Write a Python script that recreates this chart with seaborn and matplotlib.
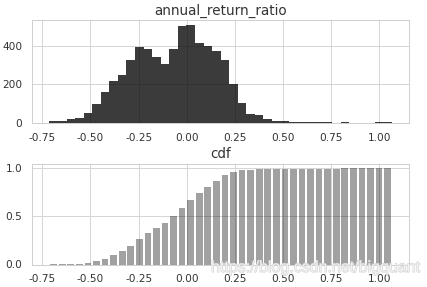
import numpy as np
import pandas as pd
import matplotlib
matplotlib.use("Agg")
import matplotlib.pyplot as plt
import matplotlib.patheffects as pe
import seaborn as sns

# ---- data ----
hist_min = -0.713
hist_max = 1.065
counts = [6, 10, 17, 22, 48, 99, 162, 217, 249, 327,
          394, 383, 342, 305, 385, 506, 511, 415, 401, 375,
          327, 204, 100, 46, 38, 21, 7, 7, 4, 3,
          2, 2, 3, 0, 2, 0, 0, 0, 2, 2]
cdf = [0.001, 0.003, 0.006, 0.010, 0.017, 0.034, 0.062, 0.100, 0.138, 0.195,
       0.263, 0.323, 0.385, 0.433, 0.500, 0.588, 0.672, 0.741, 0.809, 0.874,
       0.928, 0.962, 0.979, 0.986, 0.992, 0.995, 0.996, 0.997, 0.998, 0.998,
       0.999, 0.999, 0.999, 0.999, 1.0, 1.0, 1.0, 1.0, 1.0, 1.0]
x_ticks = [-0.75, -0.50, -0.25, 0.00, 0.25, 0.50, 0.75, 1.00]
top_yticks = [0, 200, 400]
bot_yticks = [0.0, 0.5, 1.0]
title_top = "annual_return_ratio"
title_bot = "cdf"
watermark = "https://blog.csdn.net/bigquant"

sns.set_theme(style="whitegrid")
plt.rcParams["axes.unicode_minus"] = False
plt.rcParams["font.family"] = ["DejaVu Sans"]

W, H = 427, 287
fig = plt.figure(figsize=(W / 72, H / 72), dpi=72)

edges = np.linspace(hist_min, hist_max, len(counts) + 1)
centers = (edges[:-1] + edges[1:]) / 2
df = pd.DataFrame({"x": centers, "count": counts, "cdf": cdf})
bin_list = [float(e) for e in edges]

ax1 = fig.add_axes([32.3 / W, 1 - 122.6 / H, (409 - 32.3) / W, (122.6 - 20) / H])
sns.histplot(data=df, x="x", weights="count", bins=bin_list, color="black", alpha=0.77,
             linewidth=0, ax=ax1)
ax1.set_ylabel("")
ax1.set_xlabel("")
ax1.set_xticks(x_ticks)
ax1.set_yticks(top_yticks)
ax1.set_title(title_top, fontsize=13.5, color="#333333", pad=5.5)
ax1.tick_params(labelsize=10.5, colors="#333333", pad=4)
xl = ax1.get_xlim()

ax2 = fig.add_axes([32.3 / W, 1 - 264.5 / H, (409 - 32.3) / W, (264.5 - 163.6) / H])
sns.histplot(data=df, x="x", weights="cdf", bins=bin_list, shrink=0.78, color="black",
             alpha=0.37, linewidth=0, ax=ax2)
ax2.set_ylabel("")
ax2.set_xlabel("")
ax2.set_xlim(xl)
ax2.set_xticks(x_ticks)
ax2.set_yticks(bot_yticks)
ax2.set_title(title_bot, fontsize=13.5, color="#333333", pad=5.5)
ax2.tick_params(labelsize=10.5, colors="#333333", pad=4)

for ax in (ax1, ax2):
    ax.set_axisbelow(True)
    for s in ax.spines.values():
        s.set_color("#d0d0d0")
        s.set_linewidth(1)
    ax.grid(True, color="#d6d6d6", linewidth=1)

fig.text(211 / W, 1 - 267.5 / H, watermark, family=["Liberation Sans"], fontsize=16,
         color=(1, 1, 1, 0.55), ha="left", va="center",
         path_effects=[pe.withStroke(linewidth=1.0, foreground="#d2d2d2")])

fig.savefig("out.png", dpi=72)
